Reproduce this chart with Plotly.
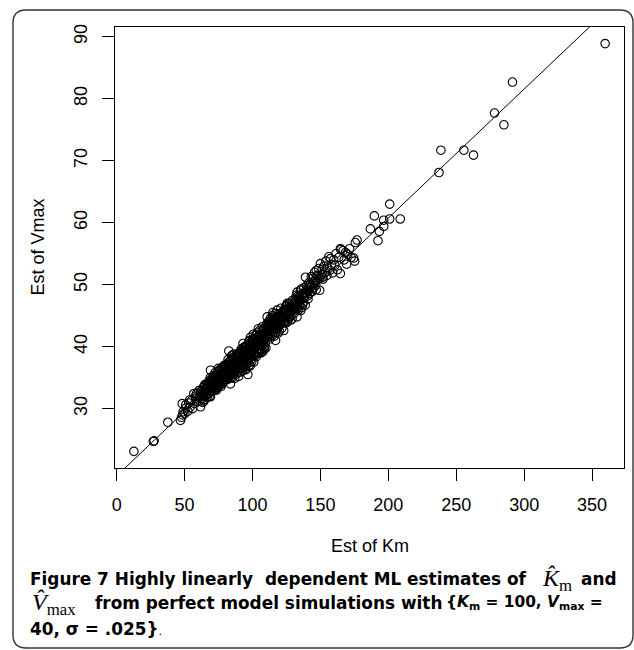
import plotly.graph_objects as go

# ---------------- data ----------------
km_est = [
    12.7, 27.0, 27.6, 37.7,
    47.0, 47.8, 49.0, 48.3, 50.2, 51.0, 52.5, 53.1, 54.0, 55.2,
    56.8, 57.5, 58.3, 59.0, 59.8, 48.5, 50.8, 53.8, 55.9, 57.9,
    60.5, 61.2, 61.8, 62.4, 63.0, 63.7, 64.1, 64.8, 65.3, 65.9,
    66.4, 66.8, 67.3, 67.9, 68.2, 68.6, 69.1, 69.1, 69.5, 69.8,
    60.9, 62.9, 64.5, 66.1, 67.6, 68.9, 63.4, 65.6,
    70.2, 70.6, 71.0, 71.3, 71.8, 72.2, 72.5, 72.9, 73.3, 73.6,
    74.0, 74.3, 74.7, 75.0, 75.4, 75.8, 76.1, 76.5, 76.8, 77.2,
    77.6, 77.9, 78.3, 78.6, 79.0, 79.3, 79.7, 80.0, 70.9, 72.0,
    73.9, 75.6, 77.0, 78.9, 79.5, 71.5, 74.9, 76.3,
    80.4, 80.8, 81.1, 81.5, 81.9, 82.2, 82.6, 82.9, 83.3, 83.8,
    84.0, 84.4, 84.8, 85.1, 85.5, 85.8, 86.2, 86.6, 86.9, 87.3,
    87.6, 88.0, 88.3, 88.7, 89.0, 89.4, 89.8, 90.0, 80.6, 81.7,
    83.1, 84.6, 85.3, 86.4, 87.1, 88.5, 89.6, 82.4, 84.2, 86.0,
    87.9, 89.2,
    90.3, 90.7, 91.0, 91.4, 91.8, 92.1, 92.5, 92.8, 93.2, 93.5,
    93.9, 94.2, 94.6, 94.9, 95.3, 95.6, 96.0, 96.3, 96.6, 97.0,
    97.3, 97.7, 98.0, 98.5, 98.8, 99.2, 99.5, 99.9, 90.5, 91.6,
    92.3, 93.7, 94.4, 95.1, 96.8, 97.5, 98.3, 99.0, 93.0, 95.8,
    97.9, 91.2, 94.0,
    100.2, 100.5, 100.9, 101.3, 101.6, 102.0, 102.4, 102.7, 103.1, 103.4,
    103.8, 104.1, 104.5, 104.8, 105.2, 105.6, 105.9, 106.3, 106.6, 107.0,
    107.4, 107.7, 108.1, 108.4, 108.8, 109.2, 109.5, 109.9, 100.7, 101.9,
    102.9, 104.3, 105.0, 106.1, 107.2, 108.6, 109.7, 103.6, 106.9, 101.1,
    110.3, 110.8, 111.1, 111.5, 111.9, 112.2, 112.6, 113.0, 113.3, 113.7,
    114.1, 114.4, 114.8, 115.2, 115.5, 115.9, 116.3, 116.6, 117.0, 117.4,
    117.7, 118.1, 118.5, 118.9, 119.3, 119.6, 110.6, 112.9, 114.6, 116.0,
    117.2, 118.3, 119.8, 111.7, 115.0,
    120.1, 120.5, 120.9, 121.3, 121.7, 122.1, 122.5, 123.0, 123.4, 123.8,
    124.2, 124.6, 125.0, 125.4, 125.8, 126.2, 126.6, 127.0, 127.4, 127.8,
    128.2, 128.6, 129.0, 129.5, 129.9, 121.0, 122.8, 124.4, 126.0, 127.6,
    129.2, 123.1, 125.6,
    130.3, 130.8, 131.3, 131.8, 132.3, 132.8, 132.8, 133.3, 133.8, 134.3,
    134.8, 135.3, 135.8, 136.3, 136.8, 137.3, 137.8, 138.3, 138.8, 139.0,
    139.4, 131.0, 134.0, 136.0, 138.0, 135.5, 139.8,
    140.3, 140.9, 141.5, 142.1, 142.7, 143.3, 143.9, 144.5, 145.1, 145.7,
    146.3, 146.9, 147.5, 148.1, 148.7, 149.3, 149.5, 141.0, 144.0, 147.0,
    150.0, 150.6, 151.3, 152.0, 152.7, 153.4, 154.1, 154.8, 155.5, 156.2,
    157.0, 157.4, 158.2, 159.0, 159.8, 160.6, 161.5, 162.5, 163.5, 164.7,
    164.7, 151.8,
    165.2, 166.7, 167.5, 168.5, 169.3, 170.2, 171.5, 172.6, 174.5, 175.2,
    175.7, 177.0,
    186.8, 189.7, 192.4, 193.4, 196.6, 196.6, 201.0, 201.0, 208.8, 237.3,
    238.7, 255.6, 262.7, 278.2, 285.1, 291.4, 359.6,
    # denser core of the cloud
    61.5, 62.0, 63.2, 64.3, 65.0, 66.0, 66.9, 67.5, 68.0, 68.4,
    69.3, 69.9,
    70.4, 70.8, 71.2, 71.7, 72.3, 72.7, 73.1, 73.5, 74.2, 74.5,
    75.2, 75.9, 76.6, 77.4, 77.8, 78.5, 79.2, 79.8,
    80.2, 80.9, 81.3, 81.8, 82.0, 82.7, 83.5, 83.9, 84.5, 84.9,
    85.6, 85.9, 86.5, 86.8, 87.4, 87.8, 88.2, 88.9, 89.3, 89.7,
    83.6, 85.0,
    90.1, 90.9, 91.3, 91.9, 92.6, 92.9, 93.4, 93.8, 94.3, 94.8,
    95.0, 95.5, 95.9, 96.4, 96.9, 97.2, 97.6, 98.1, 98.6, 99.1,
    99.4, 99.7,
    100.1, 100.6, 101.0, 101.5, 102.2, 102.6, 103.0, 103.5, 104.0, 104.6,
    105.1, 105.4, 105.8, 106.4, 106.8, 107.5, 107.9, 108.3, 108.9, 109.4,
    110.1, 110.9, 111.3, 112.0, 112.4, 113.5, 114.2, 114.9, 115.7, 116.1,
    116.8, 117.5, 118.0, 118.7, 119.1, 119.9,
    120.3, 121.1, 121.9, 122.7, 123.6, 124.0, 124.9, 125.9, 126.8, 127.2,
    128.4, 129.6,
    130.6, 131.6, 132.6, 133.6, 134.6, 135.9, 137.0, 138.6,
    140.6, 142.4, 143.6, 145.4, 146.6, 148.4,
]

vmax_est = [
    23.1, 24.7, 24.8, 27.8,
    28.1, 28.6, 29.5, 30.8, 29.2, 30.1, 29.6, 30.9, 30.2, 31.3,
    32.4, 30.8, 31.7, 32.5, 31.1, 29.0, 30.6, 31.4, 30.0, 32.0,
    32.9, 31.2, 30.3, 32.3, 31.6, 33.4, 32.0, 31.5, 33.0, 32.6,
    34.0, 31.9, 33.3, 32.5, 34.5, 33.0, 36.2, 31.9, 33.9, 32.8,
    31.9, 33.0, 33.6, 33.3, 34.2, 35.0, 31.0, 32.1,
    34.6, 33.2, 35.3, 33.9, 32.9, 34.1, 35.8, 33.5, 34.8, 33.0,
    35.2, 34.2, 36.0, 33.8, 35.0, 34.4, 36.3, 33.9, 35.5, 34.8,
    36.6, 35.1, 34.2, 36.0, 35.4, 37.0, 34.6, 36.2, 34.0, 33.4,
    34.5, 35.7, 33.6, 36.8, 35.9, 34.8, 36.5, 34.9,
    35.1, 37.0, 36.0, 34.7, 37.4, 35.8, 39.3, 36.6, 35.3, 34.0,
    37.8, 36.2, 35.4, 37.3, 36.7, 38.2, 35.9, 37.0, 34.9, 38.0,
    36.4, 37.5, 35.6, 38.6, 36.9, 37.9, 35.2, 38.4, 36.5, 35.5,
    37.6, 38.5, 35.0, 38.8, 36.0, 37.0, 38.9, 37.2, 35.7, 36.5,
    38.3, 35.9,
    37.2, 39.0, 36.5, 38.1, 37.6, 39.4, 36.1, 38.5, 37.9, 39.9,
    36.8, 38.9, 37.5, 40.1, 36.3, 38.6, 39.5, 37.8, 35.5, 40.4,
    38.9, 37.0, 39.8, 41.5, 38.3, 40.6, 37.6, 39.3, 38.4, 39.6,
    37.0, 38.2, 36.4, 39.2, 38.1, 40.9, 36.9, 39.0, 40.5, 37.2,
    41.0, 35.9, 37.0,
    40.8, 39.4, 37.5, 41.2, 40.0, 38.6, 41.8, 40.5, 39.3, 42.2,
    40.9, 38.9, 41.5, 40.2, 42.6, 39.7, 41.0, 39.0, 42.0, 40.6,
    41.7, 39.2, 42.9, 41.1, 40.0, 43.0, 41.5, 39.8, 42.0, 40.6,
    38.4, 42.9, 39.0, 40.1, 43.2, 39.6, 42.3, 41.0, 39.5, 39.0,
    42.8, 44.8, 41.5, 43.3, 42.0, 44.1, 41.2, 43.0, 44.6, 42.4,
    43.8, 41.8, 45.0, 43.2, 42.3, 44.4, 43.0, 45.3, 41.0, 44.0,
    42.8, 45.9, 43.6, 42.2, 44.8, 43.4, 43.7, 42.9, 44.5, 41.7,
    43.3, 44.4, 42.5, 44.0, 45.5,
    45.0, 43.6, 46.2, 44.4, 43.0, 45.6, 44.9, 42.6, 46.0, 44.2,
    45.4, 43.8, 46.6, 45.0, 44.0, 46.9, 45.5, 44.6, 47.0, 45.9,
    44.3, 46.4, 45.2, 47.5, 46.0, 45.1, 43.9, 46.5, 44.8, 46.1,
    44.5, 45.7, 47.0,
    46.9, 45.4, 47.6, 46.2, 48.3, 44.8, 48.8, 47.0, 45.9, 48.0,
    46.6, 49.1, 47.5, 46.3, 48.6, 47.1, 49.5, 47.9, 46.7, 51.2,
    48.6, 46.0, 47.7, 49.3, 48.2, 45.8, 49.8,
    49.0, 47.7, 50.3, 48.6, 49.6, 51.3, 48.9, 50.2, 49.5, 52.0,
    50.6, 49.2, 51.5, 50.8, 52.6, 51.0, 49.1, 49.5, 51.0, 52.3,
    53.4, 51.6, 52.5, 50.9, 53.0, 52.0, 53.8, 51.5, 52.7, 54.5,
    52.3, 54.2, 53.2, 51.9, 54.0, 53.1, 55.0, 52.4, 54.4, 51.8,
    55.8, 51.2,
    55.7, 55.5, 54.0, 55.2, 53.3, 54.9, 55.8, 54.4, 54.3, 53.8,
    56.8, 57.2,
    59.0, 61.1, 57.1, 58.6, 60.4, 59.4, 60.6, 63.0, 60.6, 68.1,
    71.7, 71.7, 70.9, 77.7, 75.8, 82.7, 88.9,
    # denser core of the cloud
    31.9, 32.8, 32.4, 31.2, 33.9, 32.2, 33.8, 32.4, 33.6, 32.0,
    34.6, 33.3,
    33.8, 35.0, 33.1, 34.4, 35.2, 34.0, 33.2, 35.6, 34.8, 33.4,
    36.1, 35.2, 34.3, 35.9, 34.0, 35.6, 34.4, 36.5,
    36.9, 35.6, 36.8, 35.0, 37.9, 36.0, 37.1, 35.8, 37.3, 36.0,
    38.0, 36.3, 35.6, 37.9, 36.8, 37.9, 36.6, 38.2, 36.4, 37.6,
    34.9, 38.6,
    38.9, 37.6, 38.8, 36.9, 38.0, 39.2, 37.4, 39.4, 38.1, 39.0,
    37.6, 40.0, 38.4, 39.8, 37.4, 39.6, 38.2, 40.1, 39.0, 38.0,
    40.9, 39.7,
    40.3, 41.3, 39.9, 38.7, 40.8, 41.9, 40.1, 39.0, 41.6, 40.4,
    41.9, 40.6, 39.4, 41.8, 40.8, 42.4, 40.4, 41.9, 42.2, 40.6,
    42.3, 43.2, 42.5, 43.6, 41.6, 43.9, 42.8, 44.0, 43.6, 44.8,
    42.2, 43.8, 44.6, 43.0, 45.3, 44.1,
    44.6, 43.7, 45.4, 44.4, 45.3, 44.0, 46.0, 45.4, 46.3, 44.9,
    45.6, 46.6,
    46.4, 47.3, 46.0, 48.2, 47.2, 48.4, 46.8, 48.7,
    48.2, 50.0, 49.3, 50.6, 49.9, 51.4,
]

# fitted reference line  Vmax = a + b * Km
fit_intercept = 19.14
fit_slope = 0.2081

x_ticks = [0, 50, 100, 150, 200, 250, 300, 350]
y_ticks = [30, 40, 50, 60, 70, 80, 90]
x_range = [-1.2, 373.5]
y_range = [20.42, 91.58]

x_title = "Est of Km"
y_title = "Est of Vmax"

# ---------------- layout geometry ----------------
W, H = 634, 650
L, R, T, B = 115, 10, 27, 182
PW = W - L - R
PH = H - T - B


def pxx(px):
    return (px - L) / PW


def pxy(py):
    return (H - B - py) / PH


AX_FONT = "Liberation Sans, Arial, sans-serif"
CAP_FONT = "DejaVu Sans, sans-serif"
SERIF = "Liberation Serif, Times New Roman, serif"

fig = go.Figure()

fig.add_trace(go.Scatter(
    x=km_est, y=vmax_est, mode="markers",
    marker=dict(symbol="circle-open", size=8.5, color="black",
                line=dict(width=1.1, color="black")),
    hoverinfo="skip",
))

line_x = list(x_range)
line_y = [fit_intercept + fit_slope * v for v in line_x]
fig.add_trace(go.Scatter(
    x=line_x, y=line_y, mode="lines",
    line=dict(color="black", width=1), hoverinfo="skip",
))

axis_common = dict(
    showgrid=False, zeroline=False, showline=True, linecolor="black",
    linewidth=1.3, mirror=True, ticks="outside", ticklen=12, tickwidth=1,
    tickcolor="black", tickfont=dict(family=AX_FONT, size=18, color="black"),
)

fig.update_xaxes(range=x_range, tickvals=x_ticks, ticklabelstandoff=8,
                 **axis_common)
fig.update_yaxes(range=y_range, tickvals=y_ticks, tickangle=-90,
                 ticklabelstandoff=8, **axis_common)

annotations = [
    dict(text=x_title, x=pxx(369.5), y=pxy(546), xanchor="center",
         yanchor="middle", font=dict(family=AX_FONT, size=18, color="black")),
    dict(text=y_title, x=pxx(37), y=pxy(247.5), xanchor="center",
         yanchor="middle", textangle=-90,
         font=dict(family=AX_FONT, size=18, color="black")),
]

cap = dict(family=CAP_FONT, size=16.9, color="black", weight="bold")
cap_c = dict(family=CAP_FONT, size=15.4, color="black", weight="bold")
L1, L2, L3 = 578.5, 603, 629


def cap_text(text, px, py, anchor="left", font=cap):
    return dict(text=text, x=pxx(px), y=pxy(py), xanchor=anchor,
                yanchor="middle", font=font)


# caption line 1 (justified in the reference)
annotations += [
    cap_text("Figure 7 Highly linearly", 28, L1),
    cap_text("dependent ML estimates of", 529, L1, "right"),
    cap_text("<span style='font-family:" + SERIF + ";font-size:24px;font-weight:normal'>"
             "<i>K\u0302</i><sub>m</sub></span>", 540, L1 + 1),
    cap_text("and", 619, L1, "right"),
]
# caption line 2
annotations += [
    cap_text("<span style='font-family:" + SERIF + ";font-size:24px;font-weight:normal'>"
             "<i>V\u0302</i><sub>max</sub></span>", 30, L2 + 1),
    cap_text("from perfect model simulations with", 93, L2),
    cap_text("{<i>K</i><sub>m</sub> = 100, <i>V</i><sub>max</sub> =", 605, L2,
             "right", font=cap_c),
]
# caption line 3
annotations += [
    cap_text("40, \u03c3 = .025}<span style='font-weight:normal;font-size:11px'>.</span>",
             28, L3),
]

for a in annotations:
    a.update(xref="paper", yref="paper", showarrow=False)

# rounded frame around the figure
x0, x1, y0, y1, rr = 13, 633, 10, 648, 13
path = (f"M {pxx(x0 + rr)} {pxy(y0)} L {pxx(x1 - rr)} {pxy(y0)} "
        f"Q {pxx(x1)} {pxy(y0)} {pxx(x1)} {pxy(y0 + rr)} "
        f"L {pxx(x1)} {pxy(y1 - rr)} "
        f"Q {pxx(x1)} {pxy(y1)} {pxx(x1 - rr)} {pxy(y1)} "
        f"L {pxx(x0 + rr)} {pxy(y1)} "
        f"Q {pxx(x0)} {pxy(y1)} {pxx(x0)} {pxy(y1 - rr)} "
        f"L {pxx(x0)} {pxy(y0 + rr)} "
        f"Q {pxx(x0)} {pxy(y0)} {pxx(x0 + rr)} {pxy(y0)} Z")

fig.update_layout(
    width=W, height=H,
    margin=dict(l=L, r=R, t=T, b=B),
    paper_bgcolor="white", plot_bgcolor="white",
    showlegend=False,
    font=dict(family=AX_FONT, size=18, color="black"),
    annotations=annotations,
    shapes=[dict(type="path", xref="paper", yref="paper", path=path,
                 line=dict(color="#333333", width=1.4), layer="above")],
)

fig.write_html("out.html")
